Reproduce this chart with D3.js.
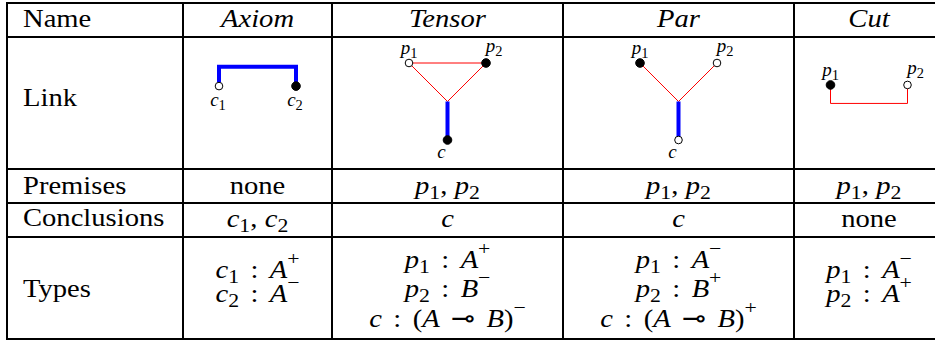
<!DOCTYPE html>
<html>
<head>
<meta charset="utf-8">
<script src="https://cdn.jsdelivr.net/npm/d3@7"></script>
<style>
body { margin: 0; background: #fff; }
svg text { white-space: pre; fill: #000; }
</style>
</head>
<body>
<svg width="935" height="343" font-family="'Liberation Serif', Tinos, 'Times New Roman', Times, serif"></svg>
<script>
// table content
var names = ["Axiom", "Tensor", "Par", "Cut"];
var rowLabels = ["Name", "Link", "Premises", "Conclusions", "Types"];
var premises = ["none", "p_1, p_2", "p_1, p_2", "p_1, p_2"];
var conclusions = ["c_1, c_2", "c", "c", "none"];
var types = [
  ["c_1 : A^+", "c_2 : A^-"],
  ["p_1 : A^+", "p_2 : B^-", "c : (A ⊸ B)^-"],
  ["p_1 : A^-", "p_2 : B^+", "c : (A ⊸ B)^+"],
  ["p_1 : A^-", "p_2 : A^+"]
];

// link drawings, in link units: x runs -1..1 across a cell, y 0 (top) .. 2 (bottom)
var linkNodes = [
  [{x: -1, y: 0.6, open: true, name: "c_1", pos: "b"}, {x: 1, y: 0.6, open: false, name: "c_2", pos: "b"}],
  [{x: -1, y: 0, open: true, name: "p_1", pos: "t"}, {x: 1, y: 0, open: false, name: "p_2", pos: "tr"}, {x: 0, y: 2, open: false, name: "c", pos: "bl"}],
  [{x: -1, y: 0, open: false, name: "p_1", pos: "t"}, {x: 1, y: 0, open: true, name: "p_2", pos: "tr"}, {x: 0, y: 2, open: true, name: "c", pos: "bl"}],
  [{x: -1, y: 0.57, open: false, name: "p_1", pos: "t"}, {x: 1, y: 0.57, open: true, name: "p_2", pos: "tr"}]
];
var linkEdges = [
  [{kind: "axiom", pts: [[-1, 0.6], [-1, 0.1], [1, 0.1], [1, 0.6]]}],
  [{kind: "cut", pts: [[-1, 0], [1, 0]]}, {kind: "cut", pts: [[-1, 0], [0, 1]]}, {kind: "cut", pts: [[1, 0], [0, 1]]}, {kind: "axiom", pts: [[0, 1], [0, 2]]}],
  [{kind: "cut", pts: [[-1, 0], [0, 1]]}, {kind: "cut", pts: [[1, 0], [0, 1]]}, {kind: "axiom", pts: [[0, 1], [0, 2]]}],
  [{kind: "cut", pts: [[-1, 0.57], [-1, 1.05], [1, 1.05], [1, 0.57]]}]
];

var svg = d3.select("svg");

var colEdges = [7, 183, 332, 563, 794, 944],
    rowEdges = [3, 37, 169, 203, 237, 339],
    labelBase = [27, 106, 194, 226, 297],
    fs = 26,
    stretch = 1.1;

function colCenter(i) { return (colEdges[i + 1] + colEdges[i + 2]) / 2; }

// writes a little math string: letters italic, _x subscript, ^x superscript,
// spaces become small kerns (thinner after a comma)
function mathText(g, str, size) {
  var t = g.append("text").attr("font-size", size).attr("text-anchor", "middle");
  var shift = 0, gap = 0, prev = "";
  for (var i = 0; i < str.length; i++) {
    var ch = str[i];
    if (ch === " ") {
      gap += (prev === "," ? 0.26 : 0.4) * size;
      continue;
    }
    var sp;
    if (ch === "_" || ch === "^") {
      var s = str[++i];
      var d = ch === "_" ? 0.2 * size : -0.5 * size;
      sp = t.append("tspan")
          .attr("dy", d - shift)
          .attr("font-size", size * 0.76)
          .text(s === "-" ? "\u2212" : s);
      shift = d;
    } else {
      sp = t.append("tspan")
          .attr("dy", -shift)
          .attr("font-style", /[a-zA-Z]/.test(ch) ? "italic" : "normal")
          .text(ch);
      shift = 0;
    }
    if (gap) sp.attr("dx", gap);
    gap = 0;
    prev = ch;
  }
  return t;
}

function cellGroup(x, y) {
  return svg.append("g").attr("transform", "translate(" + x + "," + y + ") scale(" + stretch + ",1)");
}

// row labels
rowLabels.forEach(function(d, i) {
  cellGroup(23, labelBase[i]).append("text").attr("font-size", fs).text(d);
});

// header names
names.forEach(function(d, i) {
  cellGroup(colCenter(i), labelBase[0]).append("text")
      .attr("font-size", fs)
      .attr("font-style", "italic")
      .attr("text-anchor", "middle")
      .text(d);
});

function plainOrMath(g, d) {
  if (d === "none") {
    g.append("text").attr("font-size", fs).attr("text-anchor", "middle").text(d);
  } else {
    mathText(g, d, fs);
  }
}

premises.forEach(function(d, i) { plainOrMath(cellGroup(colCenter(i), 194), d); });
conclusions.forEach(function(d, i) { plainOrMath(cellGroup(colCenter(i), 227), d); });

types.forEach(function(lines, i) {
  var n = lines.length,
      gap = n === 3 ? 29.5 : 23.5,
      mid = n === 3 ? 297 : 290;
  lines.forEach(function(d, k) {
    mathText(cellGroup(colCenter(i), mid + (k - (n - 1) / 2) * gap), d, fs);
  });
});

// link pictures
var y = d3.scaleLinear().domain([0, 2]).range([63, 140]);
var line = d3.line();

linkNodes.forEach(function(nodes, i) {
  var cx = colCenter(i);
  var x = d3.scaleLinear().domain([-1, 1]).range([cx - 38.5, cx + 38.5]);
  var g = svg.append("g");

  g.selectAll("path")
    .data(linkEdges[i])
    .enter().append("path")
      .attr("d", function(d) { return line(d.pts.map(function(p) { return [x(p[0]), y(p[1])]; })); })
      .style("fill", "none")
      .style("stroke", function(d) { return d.kind === "axiom" ? "#0000ff" : "#ff0000"; })
      .style("stroke-width", function(d) { return d.kind === "axiom" ? 4 : 1; });

  g.selectAll("circle")
    .data(nodes)
    .enter().append("circle")
      .attr("cx", function(d) { return x(d.x); })
      .attr("cy", function(d) { return y(d.y); })
      .attr("r", function(d) { return d.open ? 3.8 : 4.3; })
      .attr("fill", function(d) { return d.open ? "#fff" : "#000"; })
      .attr("stroke", "#000")
      .attr("stroke-width", 1);

  nodes.forEach(function(d) {
    var px = x(d.x), py = y(d.y), lx = px, ly;
    if (d.pos === "t") { ly = py - 9; }
    else if (d.pos === "tr") { lx = px + 8; ly = py - 11; }
    else if (d.pos === "b") { lx = px - 1; ly = py + 20; }
    else { lx = px - 6; ly = py + 18; }
    mathText(svg.append("g").attr("transform", "translate(" + lx + "," + ly + ")"), d.name, 19);
  });
});

// grid rules
svg.append("g").selectAll("line")
  .data(rowEdges)
  .enter().append("line")
    .attr("x1", colEdges[0] - 1).attr("x2", colEdges[colEdges.length - 1] + 1)
    .attr("y1", function(d) { return d; }).attr("y2", function(d) { return d; })
    .attr("stroke", "#000").attr("stroke-width", 2);

svg.append("g").selectAll("line")
  .data(colEdges)
  .enter().append("line")
    .attr("x1", function(d) { return d; }).attr("x2", function(d) { return d; })
    .attr("y1", rowEdges[0] - 1).attr("y2", rowEdges[rowEdges.length - 1] + 1)
    .attr("stroke", "#000").attr("stroke-width", 2);
</script>
</body>
</html>
